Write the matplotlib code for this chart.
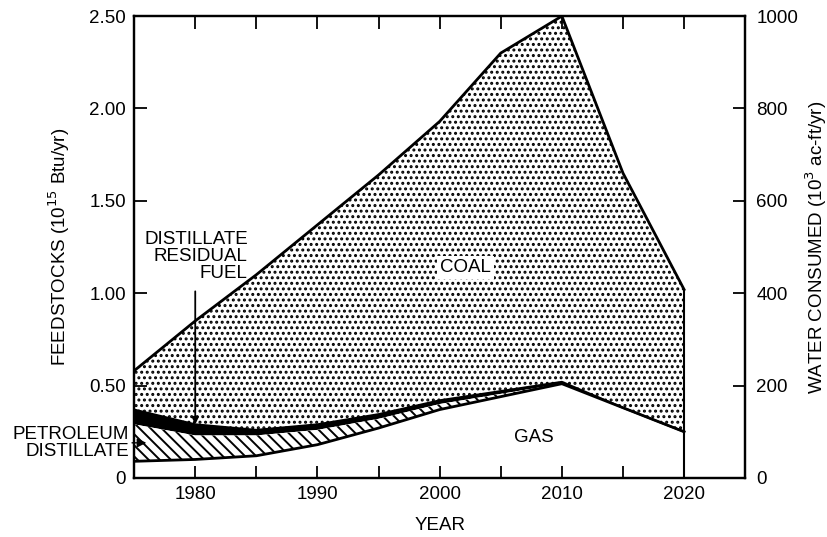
import numpy as np
import matplotlib
matplotlib.use("Agg")
import matplotlib.pyplot as plt

plt.rcParams["font.family"] = ["Liberation Sans", "DejaVu Sans"]
plt.rcParams["hatch.linewidth"] = 1.4
plt.rcParams["hatch.color"] = "black"

# data (feedstocks, 10^15 Btu/yr)
years = [1975, 1980, 1985, 1990, 1995, 2000, 2005, 2010, 2015, 2020]
gas = [0.09, 0.10, 0.12, 0.18, 0.27, 0.37, 0.44, 0.51, 0.38, 0.25]
petroleum_distillate = [0.20, 0.13, 0.11, 0.08, 0.05, 0.03, 0.015, 0.0, 0.0, 0.0]
residual_fuel = [0.08, 0.06, 0.03, 0.03, 0.025, 0.02, 0.015, 0.01, 0.0, 0.0]
total = [0.58, 0.85, 1.10, 1.37, 1.64, 1.93, 2.30, 2.50, 1.65, 1.02]

x_ticks = [1975, 1980, 1985, 1990, 1995, 2000, 2005, 2010, 2015, 2020, 2025]
x_labels = ["", "1980", "", "1990", "", "2000", "", "2010", "", "2020", ""]
left_ticks = [0, 0.5, 1.0, 1.5, 2.0, 2.5]
left_labels = ["0", "0.50", "1.00", "1.50", "2.00", "2.50"]
right_ticks = [0, 200, 400, 600, 800, 1000]

FS = 13.5


def main():
    yrs = np.array(years)
    g = np.array(gas)
    pd_top = g + np.array(petroleum_distillate)
    rf_top = pd_top + np.array(residual_fuel)
    tot = np.array(total)

    fig = plt.figure(figsize=(8.28, 5.37), dpi=100)
    ax = fig.add_axes([0.162, 0.110, 0.738, 0.860])

    # coal (stippled)
    ax.fill_between(yrs, rf_top, tot, facecolor="white", edgecolor="black",
                    linewidth=0, hatch="...")
    # residual fuel (solid black)
    ax.fill_between(yrs, pd_top, rf_top, facecolor="black", linewidth=0)
    # petroleum distillate (hatched)
    ax.fill_between(yrs, g, pd_top, facecolor="white", edgecolor="black",
                    linewidth=0, hatch="\\\\\\")
    # gas (white)
    ax.fill_between(yrs, 0, g, facecolor="white", linewidth=0)

    ax.plot(yrs, tot, color="black", lw=2)
    ax.plot(yrs, g, color="black", lw=2)
    ax.plot(yrs, rf_top, color="black", lw=1.5)
    ax.vlines(yrs[-1], 0, tot[-1], color="black", lw=1.5)

    ax.set_xlim(1975, 2025)
    ax.set_ylim(0, 2.5)
    ax.set_xticks(x_ticks)
    ax.set_xticklabels(x_labels)
    ax.set_yticks(left_ticks)
    ax.set_yticklabels(left_labels)
    ax.tick_params(direction="in", length=9, width=1.3, labelsize=FS,
                   top=True, pad=6)
    ax.tick_params(axis="y", right=False)
    for s in ax.spines.values():
        s.set_linewidth(1.6)

    ax2 = ax.twinx()
    ax2.set_ylim(0, 1000)
    ax2.set_yticks(right_ticks)
    ax2.tick_params(direction="in", length=9, width=1.3, labelsize=FS, pad=8)
    for s in ax2.spines.values():
        s.set_linewidth(1.6)

    ax.set_xlabel("YEAR", fontsize=FS, labelpad=10)
    ax.set_ylabel("FEEDSTOCKS (10$^{15}$ Btu/yr)", fontsize=FS, labelpad=12)
    ax2.set_ylabel("WATER CONSUMED (10$^{3}$ ac-ft/yr)", fontsize=FS,
                   labelpad=4)

    ax.text(2002.1, 1.14, "COAL", fontsize=FS, ha="center", va="center",
            bbox=dict(facecolor="white", edgecolor="none", pad=2))
    ax.text(2007.7, 0.22, "GAS", fontsize=FS, ha="center", va="center")

    ax.text(1984.3, 1.06, "DISTILLATE\nRESIDUAL\nFUEL", ha="right",
            va="bottom", fontsize=FS, linespacing=1.0)
    ax.annotate("", xy=(1980, 0.29), xytext=(1980, 1.01),
                arrowprops=dict(arrowstyle="-|>", color="black", lw=1.3,
                                shrinkA=0, shrinkB=0))
    ax.annotate("PETROLEUM\nDISTILLATE", xy=(1976.0, 0.19),
                xytext=(1974.6, 0.19), ha="right", va="center",
                fontsize=FS, linespacing=0.95, annotation_clip=False,
                arrowprops=dict(arrowstyle="-|>", color="black", lw=1.0,
                                shrinkA=0, shrinkB=0, relpos=(1.0, 0.5)))

    fig.savefig("out.png", dpi=100)


if __name__ == "__main__":
    main()
